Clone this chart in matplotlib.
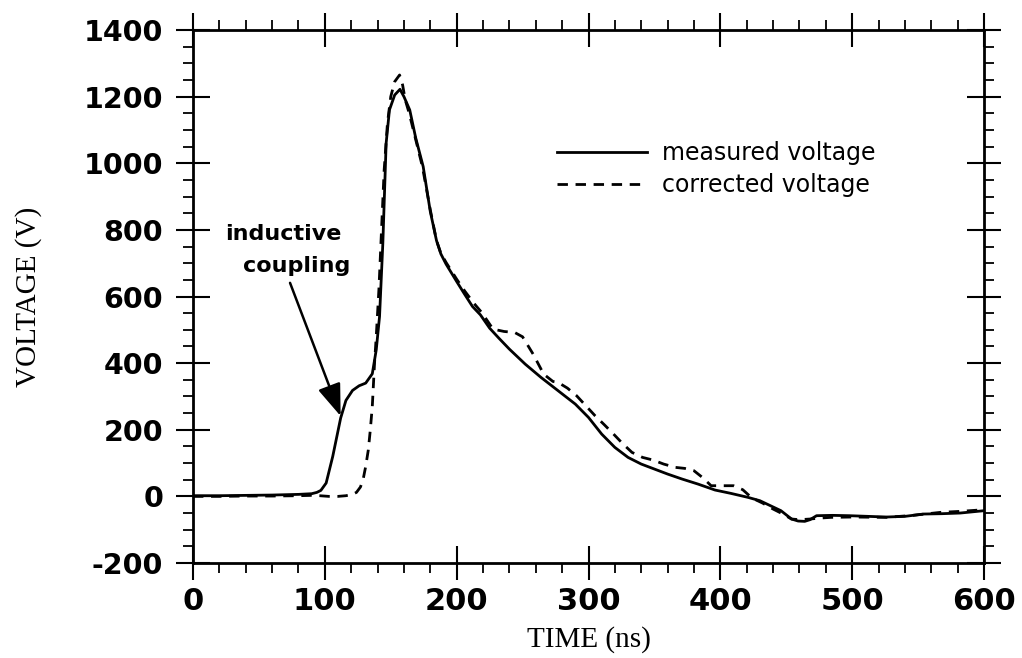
import matplotlib
matplotlib.use("Agg")
import matplotlib.pyplot as plt
from matplotlib.ticker import FixedLocator, MultipleLocator

# ---------------- data ----------------
t_measured = [0, 20, 40, 60, 80, 90, 94, 97, 101, 106, 112, 116, 121, 126, 131, 136,
              139, 141.5, 144, 146.5, 149, 153, 157, 160, 164.4, 169, 174.6, 180, 184.7,
              188, 192, 200, 206, 212, 218, 225, 232, 240, 252, 264, 277, 290, 300, 310, 320,
              330, 340, 350, 360, 371, 383, 396, 408, 421, 430, 438, 446, 454, 459, 464,
              468, 473, 485, 498, 512, 526, 540, 554, 568, 582, 600]
v_measured = [2, 2, 3, 4, 6, 8, 12, 18, 40, 120, 235, 288, 318, 332, 340, 368,
              440, 540, 760, 1060, 1160, 1205, 1222, 1200, 1160, 1075, 990, 855, 768,
              728, 697, 645, 607, 570, 545, 505, 475, 442, 397, 357, 317, 277, 237, 187, 147,
              117, 97, 82, 67, 52, 37, 19, 9, -3, -13, -28, -43, -68, -74, -75,
              -70, -58, -57, -58, -60, -62, -60, -53, -52, -50, -43]

t_corrected = [0, 20, 40, 60, 80, 90, 96, 103, 110, 116, 121, 124, 127, 129, 131, 133,
               134.5, 136, 137.7, 139, 141, 143, 145, 147.5, 150, 153, 156.7, 159, 161,
               164, 169, 174, 180, 184.7, 188, 192, 200, 206, 213, 219, 227.6, 236, 244, 250,
               258, 266, 273, 277, 284, 291, 298, 305, 312, 319, 326, 333, 341, 349, 357,
               366, 373, 380, 387, 393, 402, 410, 417, 424, 432, 440, 447, 454, 460, 468,
               476, 484, 500, 526, 546, 567, 582, 600]
v_corrected = [0, 0, 1, 1, 2, 3, 2, 0, 0, 2, 6, 12, 28, 50, 90, 140,
               200, 270, 400, 480, 620, 800, 980, 1120, 1200, 1245, 1265, 1235, 1190,
               1150, 1070, 990, 860, 768, 730, 702, 652, 617, 580, 552, 502, 495, 492, 479,
               427, 367, 345, 342, 325, 302, 272, 242, 215, 187, 158, 132, 117, 109, 97,
               87, 84, 77, 55, 32, 32, 32, 20, -5, -20, -38, -52, -68, -70, -68,
               -65, -63, -62, -63, -57, -48, -45, -40]

x_ticks = [0, 100, 200, 300, 400, 500, 600]
x_ticklabels = ["0", "100", "200", "300", "400", "500", "600"]
y_ticks = [-200, 0, 200, 400, 600, 800, 1000, 1200, 1400]
y_ticklabels = ["-200", "0", "200", "400", "600", "800", "1000", "1200", "1400"]

series_labels = ["measured voltage", "corrected voltage"]
annotation_lines = ["inductive", "coupling"]

# ---------------- figure ----------------
plt.rcParams["axes.unicode_minus"] = False
plt.rcParams["lines.scale_dashes"] = False

fig = plt.figure(figsize=(10.22, 6.58), dpi=100)
ax = fig.add_axes([193 / 1022, 1 - 563 / 658, (984 - 193) / 1022, (563 - 30) / 658])

ax.plot(t_measured, v_measured, color="black", lw=2.0, solid_joinstyle="round",
        label=series_labels[0])
ax.plot(t_corrected, v_corrected, color="black", lw=2.0, dashes=(7.5, 5.5),
        label=series_labels[1])

ax.set_xlim(0, 600)
ax.set_ylim(-200, 1400)

ax.xaxis.set_major_locator(FixedLocator(x_ticks))
ax.xaxis.set_minor_locator(MultipleLocator(20))
ax.yaxis.set_major_locator(FixedLocator(y_ticks))
ax.yaxis.set_minor_locator(MultipleLocator(50))
ax.set_xticklabels(x_ticklabels)
ax.set_yticklabels(y_ticklabels)

for lab in ax.get_xticklabels():
    lab.set_fontfamily("DejaVu Sans")
    lab.set_fontweight("bold")
    lab.set_fontsize(22)
for lab in ax.get_yticklabels():
    lab.set_fontfamily("DejaVu Sans")
    lab.set_fontweight("bold")
    lab.set_fontsize(20.5)

ax.tick_params(which="major", direction="inout", length=25, width=1.5,
               top=True, right=True, color="black")
ax.tick_params(which="minor", direction="out", length=7, width=1.3,
               top=True, right=True, color="black")
ax.tick_params(axis="x", which="major", pad=5)
ax.tick_params(axis="y", which="major", pad=9)

for sp in ax.spines.values():
    sp.set_linewidth(2.0)

ax.set_xlabel("TIME (ns)", fontfamily="Liberation Serif", fontsize=21, va="center")
ax.xaxis.set_label_coords(0.5, -(640 - 563) / 533)
ax.set_ylabel("VOLTAGE (V)", fontfamily="Liberation Serif", fontsize=21, va="center")
ax.yaxis.set_label_coords((29 - 193) / 791, 0.5)

# annotation
ax.text(24.3, 770, annotation_lines[0], fontfamily="DejaVu Sans", fontweight="bold",
        fontsize=16, ha="left", va="baseline")
ax.text(37.9, 674, annotation_lines[1], fontfamily="DejaVu Sans", fontweight="bold",
        fontsize=16, ha="left", va="baseline")
ax.annotate("", xy=(112, 241), xytext=(73.6, 641),
            arrowprops=dict(arrowstyle="-|>,head_length=1.1,head_width=0.4",
                            mutation_scale=18, lw=1.8, color="black",
                            shrinkA=0, shrinkB=0))

leg = ax.legend(loc="upper left", bbox_to_anchor=(557 / 1022, 1 - 141 / 658),
                bbox_transform=fig.transFigure, frameon=False,
                prop={"family": "DejaVu Sans", "size": 17},
                handlelength=3.8, handletextpad=0.65, labelspacing=0.34,
                borderpad=0, borderaxespad=0)

fig.savefig("out.png", dpi=100)
